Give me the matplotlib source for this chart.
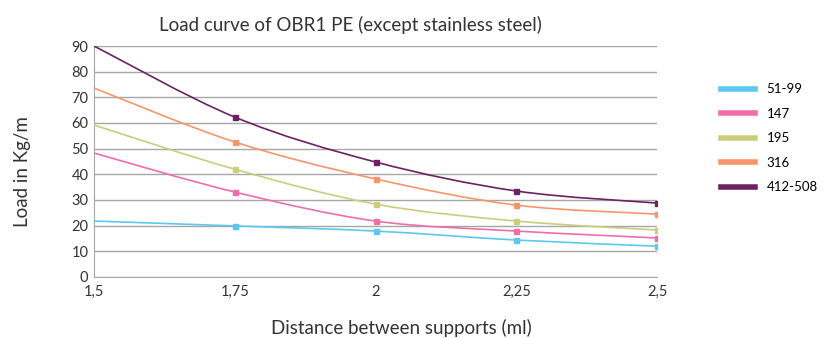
import matplotlib
matplotlib.use("Agg")
import matplotlib.pyplot as plt
import numpy as np
from matplotlib.path import Path
from matplotlib.patches import PathPatch
from matplotlib.lines import Line2D

# distance between supports (m) and load per series (kg/m)
distances = [1.5, 1.75, 2.0, 2.25, 2.5]
tick_labels = ["1,5", "1,75", "2", "2,25", "2,5"]
series_names = ["51-99", "147", "195", "316", "412-508"]
load_51_99 = [21.8, 19.9, 17.9, 14.4, 12.0]
load_147 = [48.3, 33.1, 21.8, 17.9, 15.2]
load_195 = [59.2, 42.0, 28.4, 21.8, 18.3]
load_316 = [73.6, 52.6, 38.2, 28.0, 24.5]
load_412_508 = [90.0, 62.3, 44.8, 33.5, 28.8]
colors = ["#5cc8f0", "#ee6fa8", "#c9cd7c", "#f7956b", "#6b2262"]

plt.rcParams["font.family"] = ["Lato", "DejaVu Sans"]
text_color = "#333333"


def smooth_path(xs, ys):
    # Bezier curve through the points, like a spreadsheet "smoothed line"
    pts = np.column_stack([xs, ys])
    verts = [pts[0]]
    codes = [Path.MOVETO]
    n = len(pts)
    for i in range(n - 1):
        p0 = pts[i - 1] if i > 0 else pts[i]
        p1 = pts[i]
        p2 = pts[i + 1]
        p3 = pts[i + 2] if i + 2 < n else pts[i + 1]
        c1 = p1 + (p2 - p0) / 6.0
        c2 = p2 - (p3 - p1) / 6.0
        verts += [c1, c2, p2]
        codes += [Path.CURVE4] * 3
    return Path(verts, codes)


fig = plt.figure(figsize=(8.24, 3.38), dpi=100)
ax = fig.add_axes([0.1141, 0.1805, 0.6833, 0.6834])

all_loads = [load_51_99, load_147, load_195, load_316, load_412_508]
for name, ys, c in zip(series_names, all_loads, colors):
    ax.add_patch(PathPatch(smooth_path(distances, ys), facecolor="none",
                           edgecolor=c, lw=1.2, zorder=3))
    ax.plot(distances[1:], ys[1:], ls="none", marker="s", ms=3.6,
            color=c, zorder=4)

ax.set_xlim(1.5, 2.5)
ax.set_ylim(0, 90)
ax.set_xticks(distances)
ax.set_xticklabels(tick_labels)
ax.set_yticks(range(0, 100, 10))
ax.yaxis.grid(True, color="#a6a6a6", lw=1.0)
ax.set_axisbelow(True)
for s in ["top", "right"]:
    ax.spines[s].set_visible(False)
for s in ["left", "bottom"]:
    ax.spines[s].set_color("#a6a6a6")
ax.tick_params(axis="both", length=0, labelsize=10.5, colors=text_color, pad=4)
ax.tick_params(axis="x", pad=6)

fig.text(0.425, 0.908, "Load curve of OBR1 PE (except stainless steel)",
         fontsize=13.5, color=text_color, ha="center", va="baseline")
fig.text(0.487, 0.012, "Distance between supports (ml)", fontsize=13.5,
         color=text_color, ha="center", va="baseline")
fig.text(0.027, 0.491, "Load in Kg/m", fontsize=13.5, color=text_color,
         ha="center", va="center", rotation=90)

handles = [Line2D([], [], color=c, lw=4) for c in colors]
fig.legend(handles, series_names, loc="upper left",
           bbox_to_anchor=(0.86, 0.789), frameon=False, fontsize=9.5,
           handlelength=2.6, labelspacing=0.95, handletextpad=0.9)

fig.savefig("out.png", dpi=100)
